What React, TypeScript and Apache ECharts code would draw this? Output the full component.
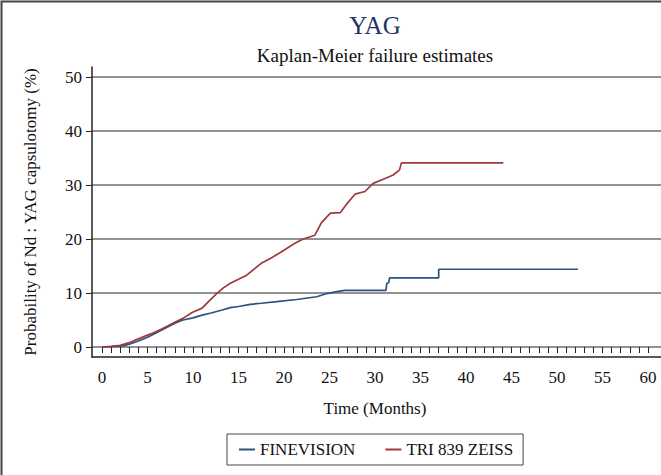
import React, { useEffect, useRef } from "react";
import * as echarts from "echarts";

// Kaplan-Meier failure estimates (time in months, probability in %)
const fineTime = [0, 1, 2.3, 3, 4, 5, 5.6, 7.1, 8, 8.9, 10, 11, 12, 13.2, 14.1, 15, 16.3, 17.5, 19.2, 21.4, 23.6, 24.7, 25.8, 26.7, 31.2, 31.3, 31.5, 31.6, 37.0, 37.0, 52.3];
const fineValue = [0, 0.05, 0.2, 0.5, 1.1, 1.8, 2.3, 3.6, 4.4, 5.0, 5.4, 5.9, 6.3, 6.85, 7.3, 7.5, 7.9, 8.1, 8.4, 8.8, 9.3, 9.9, 10.25, 10.5, 10.5, 11.8, 11.9, 12.8, 12.8, 14.4, 14.4];

const triTime = [0, 1, 2, 3, 4, 5, 5.6, 6.5, 7.1, 8, 8.9, 9.9, 11, 11.7, 12.6, 13.3, 14.1, 15.9, 17.5, 18.5, 19.6, 21.2, 22.1, 23.4, 24.1, 25.1, 26.2, 26.9, 27.8, 28.9, 29.8, 30.9, 32.0, 32.7, 32.9, 44.1];
const triValue = [0, 0.1, 0.3, 0.8, 1.5, 2.2, 2.6, 3.3, 3.8, 4.6, 5.3, 6.4, 7.2, 8.4, 9.9, 10.9, 11.8, 13.3, 15.5, 16.4, 17.5, 19.2, 20, 20.7, 23.0, 24.8, 24.9, 26.5, 28.3, 28.8, 30.3, 31.05, 31.85, 32.8, 34.1, 34.1];

const seriesNames = ["FINEVISION", "TRI 839 ZEISS"];
const titleText = "YAG";
const subtitleText = "Kaplan-Meier failure estimates";
const xTitle = "Time (Months)";
const yTitle = "Probability of Nd : YAG capsulotomy (%)";

const FONT = '"Liberation Serif", "Times New Roman", serif';
const BLUE = "#2a5282";
const RED = "#a0393f";

export default function App() {
  const ref = useRef<HTMLDivElement>(null);
  useEffect(() => {
    if (!ref.current) return;
    const chart = echarts.init(ref.current, null, { renderer: "svg" });
    const zip = (t: number[], v: number[]) => t.map((x, i) => [x, v[i]]);
    chart.setOption({
      animation: false,
      backgroundColor: "#ffffff",
      textStyle: { fontFamily: FONT },
      grid: [
        { left: 102, right: 13, top: 77, bottom: 128 },
        { left: 92, right: 0, top: 77, bottom: 128 },
        { left: 92, right: 0, top: 67, bottom: 118 },
      ],
      xAxis: [
        {
          gridIndex: 0,
          type: "value",
          min: 0,
          max: 60,
          interval: 1,
          offset: 10,
          axisLine: { show: false },
          axisTick: { show: true, length: 6, lineStyle: { color: "#222", width: 1 } },
          splitLine: { show: false },
          axisLabel: {
            margin: 12,
            fontFamily: FONT,
            fontSize: 17,
            color: "#111",
            formatter: (v: number) => (v % 5 === 0 ? String(v) : ""),
          },
          name: xTitle,
          nameLocation: "middle",
          nameGap: 43,
          nameTextStyle: { fontFamily: FONT, fontSize: 17, color: "#111" },
        },
        { gridIndex: 1, type: "value", min: 0, max: 1, show: false },
        {
          gridIndex: 2,
          type: "value",
          min: 0,
          max: 1,
          axisLine: { show: true, lineStyle: { color: "#222", width: 1.5 } },
          axisTick: { show: false },
          axisLabel: { show: false },
          splitLine: { show: false },
        },
      ],
      yAxis: [
        { gridIndex: 0, type: "value", min: 0, max: 50, interval: 10, show: false },
        {
          gridIndex: 1,
          type: "value",
          min: 0,
          max: 50,
          interval: 10,
          axisLine: { show: false },
          axisTick: { show: true, length: 6, lineStyle: { color: "#222", width: 1 } },
          axisLabel: { margin: 10, fontFamily: FONT, fontSize: 17, color: "#111" },
          splitLine: { show: true, lineStyle: { color: "#6e6e6e", width: 1.5 } },
          name: yTitle,
          nameLocation: "middle",
          nameGap: 53,
          nameRotate: 90,
          nameTextStyle: { fontFamily: FONT, fontSize: 17, color: "#111" },
        },
        {
          gridIndex: 2,
          type: "value",
          min: 0,
          max: 1,
          axisLine: { show: true, lineStyle: { color: "#222", width: 1.5 } },
          axisTick: { show: false },
          axisLabel: { show: false },
          splitLine: { show: false },
        },
      ],
      legend: {
        left: 227,
        top: 434,
        orient: "horizontal",
        borderColor: "#444",
        borderWidth: 1,
        borderRadius: 0,
        padding: [7, 10, 7, 12],
        itemGap: 30,
        itemWidth: 16,
        itemHeight: 2,
        icon: "rect",
        textStyle: { fontFamily: FONT, fontSize: 17, color: "#111" },
        data: seriesNames,
      },
      graphic: [
        {
          type: "rect",
          shape: { x: 1.5, y: 1.5, width: 720, height: 520 },
          style: { fill: "none", stroke: "#444", lineWidth: 2 },
          silent: true,
        },
        {
          type: "text",
          x: 375,
          y: 25,
          style: { text: titleText, font: `25px ${FONT}`, fill: "#243462", align: "center", verticalAlign: "middle" },
        },
        {
          type: "text",
          x: 375,
          y: 55,
          style: { text: subtitleText, font: `19px ${FONT}`, fill: "#111", align: "center", verticalAlign: "middle" },
        },
      ],
      series: [
        {
          name: seriesNames[0],
          type: "line",
          xAxisIndex: 0,
          yAxisIndex: 0,
          data: zip(fineTime, fineValue),
          symbol: "none",
          lineStyle: { color: BLUE, width: 1.7 },
          itemStyle: { color: BLUE },
          z: 3,
        },
        {
          name: seriesNames[1],
          type: "line",
          xAxisIndex: 0,
          yAxisIndex: 0,
          data: zip(triTime, triValue),
          symbol: "none",
          lineStyle: { color: RED, width: 1.7 },
          itemStyle: { color: RED },
          z: 4,
        },
      ],
    });
    return () => chart.dispose();
  }, []);
  return <div ref={ref} style={{ position: "fixed", left: 0, top: 0, width: 661, height: 475 }} />;
}
